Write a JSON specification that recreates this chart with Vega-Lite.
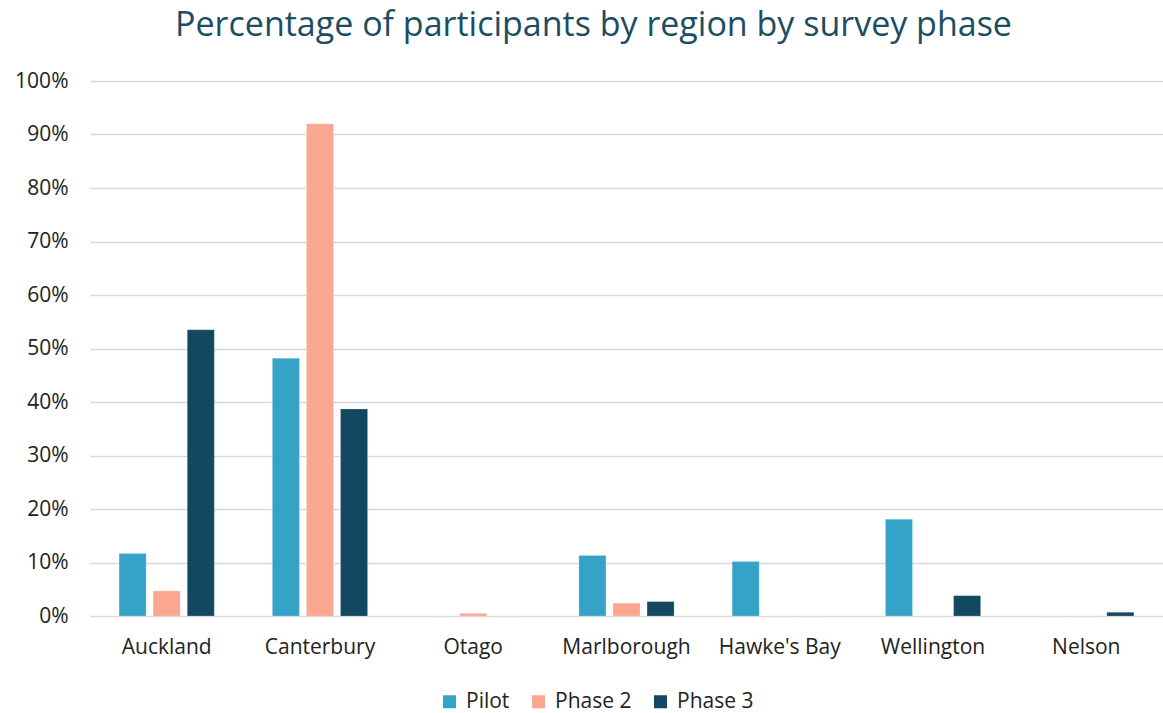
{
  "$schema": "https://vega.github.io/schema/vega-lite/v6.json",
  "autosize": {"type": "none"},
  "width": 1073,
  "height": 535,
  "padding": {"left": 90, "top": 81, "right": 0, "bottom": 97},
  "background": "white",
  "title": {
    "text": "Percentage of participants by region by survey phase",
    "font": "Open Sans",
    "fontSize": 34,
    "fontWeight": "normal",
    "color": "#1B4D63",
    "anchor": "middle",
    "dx": -33,
    "offset": 27
  },
  "data": {
    "values": [
      {"region": "Auckland", "phase": "Pilot", "pct": 0.117},
      {"region": "Auckland", "phase": "Phase 2", "pct": 0.047},
      {"region": "Auckland", "phase": "Phase 3", "pct": 0.535},
      {"region": "Canterbury", "phase": "Pilot", "pct": 0.482},
      {"region": "Canterbury", "phase": "Phase 2", "pct": 0.92},
      {"region": "Canterbury", "phase": "Phase 3", "pct": 0.387},
      {"region": "Otago", "phase": "Pilot", "pct": 0},
      {"region": "Otago", "phase": "Phase 2", "pct": 0.005},
      {"region": "Otago", "phase": "Phase 3", "pct": 0},
      {"region": "Marlborough", "phase": "Pilot", "pct": 0.113},
      {"region": "Marlborough", "phase": "Phase 2", "pct": 0.024},
      {"region": "Marlborough", "phase": "Phase 3", "pct": 0.027},
      {"region": "Hawke's Bay", "phase": "Pilot", "pct": 0.102},
      {"region": "Hawke's Bay", "phase": "Phase 2", "pct": 0},
      {"region": "Hawke's Bay", "phase": "Phase 3", "pct": 0},
      {"region": "Wellington", "phase": "Pilot", "pct": 0.181},
      {"region": "Wellington", "phase": "Phase 2", "pct": 0},
      {"region": "Wellington", "phase": "Phase 3", "pct": 0.038},
      {"region": "Nelson", "phase": "Pilot", "pct": 0},
      {"region": "Nelson", "phase": "Phase 2", "pct": 0},
      {"region": "Nelson", "phase": "Phase 3", "pct": 0.007}
    ]
  },
  "mark": {"type": "bar", "stroke": "white", "strokeWidth": 0.5, "strokeOpacity": 0.4},
  "encoding": {
    "x": {
      "field": "region",
      "type": "nominal",
      "sort": null,
      "scale": {"paddingInner": 0.333, "paddingOuter": 0.167},
      "axis": {
        "title": null,
        "labelAngle": 0,
        "labelFont": "Open Sans",
        "labelFontSize": 21,
        "labelColor": "#222222",
        "labelPadding": 20,
        "ticks": false,
        "domain": false
      }
    },
    "xOffset": {
      "field": "phase",
      "type": "nominal",
      "sort": ["Pilot", "Phase 2", "Phase 3"],
      "scale": {"paddingInner": 0.206, "paddingOuter": 0.103}
    },
    "y": {
      "field": "pct",
      "type": "quantitative",
      "scale": {"domain": [0, 1]},
      "axis": {
        "title": null,
        "format": ".0%",
        "values": [0, 0.1, 0.2, 0.3, 0.4, 0.5, 0.6, 0.7, 0.8, 0.9, 1],
        "labelOverlap": false,
        "labelFont": "Open Sans",
        "labelFontSize": 21,
        "labelColor": "#222222",
        "labelPadding": 22,
        "ticks": false,
        "domain": false,
        "gridColor": "#D9D9D9",
        "gridWidth": 1.5
      }
    },
    "color": {
      "field": "phase",
      "type": "nominal",
      "sort": ["Pilot", "Phase 2", "Phase 3"],
      "scale": {"domain": ["Pilot", "Phase 2", "Phase 3"], "range": ["#35A3C8", "#FBA690", "#124862"]},
      "legend": {
        "title": null,
        "orient": "none",
        "direction": "horizontal",
        "legendX": 349,
        "legendY": 610,
        "symbolType": "square",
        "symbolSize": 169,
        "symbolStrokeWidth": 0,
        "labelFont": "Open Sans",
        "labelFontSize": 21,
        "labelColor": "#222222",
        "labelOffset": 6,
        "columnPadding": 18
      }
    }
  },
  "config": {"view": {"stroke": null}}
}
